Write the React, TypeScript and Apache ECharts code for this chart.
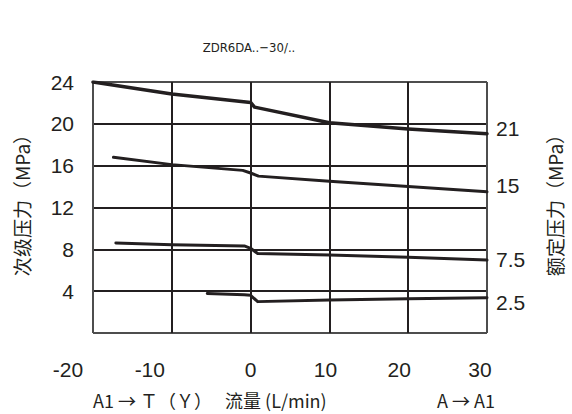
import React, { useEffect, useRef } from "react";
import * as echarts from "echarts";

const titleText = "ZDR6DA..−30/..";
const leftAxisName = "次级压力（MPa）";
const rightAxisName = "额定压力（MPa）";
const bottomLeftText = "A1 → Ｔ（Ｙ）　 流量 (L/min)";
const bottomRightText = "A → A1";

const xTickValues = [-20, -10, 0, 10, 20, 30];
const rightTickValues = [19.55, 14.1, 7.0, 2.9];
const rightTickLabels = ["21", "15", "7.5", "2.5"];

const line1X = [-20, -10, 0, 0.5, 10, 20, 30];
const line1Y = [24, 22.85, 22.05, 21.6, 20.1, 19.5, 19.05];
const line2X = [-17.4, -10, -1, 0, 1, 10, 20, 30];
const line2Y = [16.8, 16.1, 15.55, 15.3, 15.0, 14.5, 14.0, 13.5];
const line3X = [-17.1, -10, -0.8, 0, 0.9, 10, 20, 30];
const line3Y = [8.6, 8.45, 8.33, 8.1, 7.6, 7.45, 7.25, 6.97];
const line4X = [-5.5, -0.8, 0, 0.9, 10, 20, 30];
const line4Y = [3.78, 3.66, 3.6, 3.0, 3.15, 3.27, 3.37];

const INK = "#231f20";
const NUM_FONT = "'Liberation Sans Narrow', 'Arial Narrow', 'Liberation Sans', sans-serif";
const CJK_FONT = "'Noto Sans CJK SC', 'Liberation Sans', sans-serif";
const TITLE_FONT = "'DejaVu Sans Condensed', 'Liberation Sans Narrow', 'Liberation Sans', sans-serif";

// horizontal nudges (px) of x tick labels, as in the reference
const xLabelShift = [-25, -22, 0, -4, -9, -7];

function zip(xs: number[], ys: number[]) {
  return xs.map((x, i) => [x, ys[i]]);
}

export default function App() {
  const ref = useRef<HTMLDivElement>(null);
  useEffect(() => {
    if (!ref.current) return;
    const chart = echarts.init(ref.current, null, { renderer: "svg" });
    const rich: Record<string, any> = {};
    xLabelShift.forEach((s, i) => {
      rich["p" + i] = {
        fontFamily: NUM_FONT,
        fontSize: 21,
        color: INK,
        padding: [0, s < 0 ? -2 * s : 0, 0, s > 0 ? 2 * s : 0],
      };
    });
    const lineSeries = (xs: number[], ys: number[], w: number) => ({
      type: "line",
      data: zip(xs, ys),
      showSymbol: false,
      symbol: "none",
      lineStyle: { color: INK, width: w, cap: "round", join: "round" },
      yAxisIndex: 0,
    });
    chart.setOption({
      animation: false,
      backgroundColor: "#ffffff",
      grid: { left: 93, right: 81, top: 82, bottom: 81, containLabel: false },
      graphic: [
        {
          type: "text",
          x: 249,
          y: 47,
          style: {
            text: titleText,
            font: "13px " + TITLE_FONT,
            fill: INK,
            align: "center",
            verticalAlign: "middle",
          },
        },
        {
          type: "text",
          x: 93,
          y: 400,
          style: { text: bottomLeftText, font: "18px " + CJK_FONT, fill: INK, align: "left", verticalAlign: "middle" },
        },
        {
          type: "text",
          x: 495,
          y: 400,
          style: { text: bottomRightText, font: "18px " + CJK_FONT, fill: INK, align: "right", verticalAlign: "middle" },
        },
      ],
      xAxis: {
        type: "value",
        min: -20,
        max: 30,
        interval: 10,
        axisLine: { show: false },
        axisTick: { show: false },
        splitLine: {
          show: true,
          lineStyle: { color: ["#4d4d4d", INK, INK, INK, INK, "#4d4d4d"], width: 2 },
        },
        axisLabel: {
          margin: 26,
          formatter: (v: number) => {
            const i = xTickValues.indexOf(v);
            return `{p${i < 0 ? 2 : i}|${v}}`;
          },
          rich,
        },
      },
      yAxis: [
        {
          type: "value",
          min: 0,
          max: 24,
          interval: 4,
          position: "left",
          name: leftAxisName,
          nameLocation: "middle",
          nameGap: 62,
          nameRotate: 90,
          nameTextStyle: { fontFamily: CJK_FONT, fontSize: 19, color: INK, padding: [0, 0, 0, 14] },
          axisLine: { show: false },
          axisTick: { show: false },
          splitLine: {
            show: true,
            lineStyle: { color: ["#4d4d4d", INK, INK, INK, INK, INK, "#4d4d4d"], width: 2 },
          },
          axisLabel: {
            margin: 19,
            fontFamily: NUM_FONT,
            fontSize: 21,
            color: INK,
            padding: [6, 0, 0, 0],
            formatter: (v: number) => (v === 0 ? "" : String(v)),
          },
        },
        {
          type: "value",
          min: 0,
          max: 24,
          position: "right",
          name: rightAxisName,
          nameLocation: "middle",
          nameGap: 58,
          nameRotate: 90,
          nameTextStyle: { fontFamily: CJK_FONT, fontSize: 19, color: INK, padding: [0, 0, 0, 14] },
          axisLine: { show: false },
          axisTick: { show: false },
          splitLine: { show: false },
          axisLabel: {
            margin: 9,
            fontFamily: NUM_FONT,
            fontSize: 21,
            color: INK,
            customValues: rightTickValues,
            formatter: (v: number) => {
              let best = 0;
              rightTickValues.forEach((t, i) => {
                if (Math.abs(t - v) < Math.abs(rightTickValues[best] - v)) best = i;
              });
              return rightTickLabels[best];
            },
          },
        },
      ],
      series: [
        lineSeries(line1X, line1Y, 3.5),
        lineSeries(line2X, line2Y, 3),
        lineSeries(line3X, line3Y, 3),
        lineSeries(line4X, line4Y, 3),
      ],
    });
    return () => chart.dispose();
  }, []);
  return (
    <div
      ref={ref}
      style={{ position: "fixed", left: 0, top: 0, width: 572, height: 414 }}
    />
  );
}
